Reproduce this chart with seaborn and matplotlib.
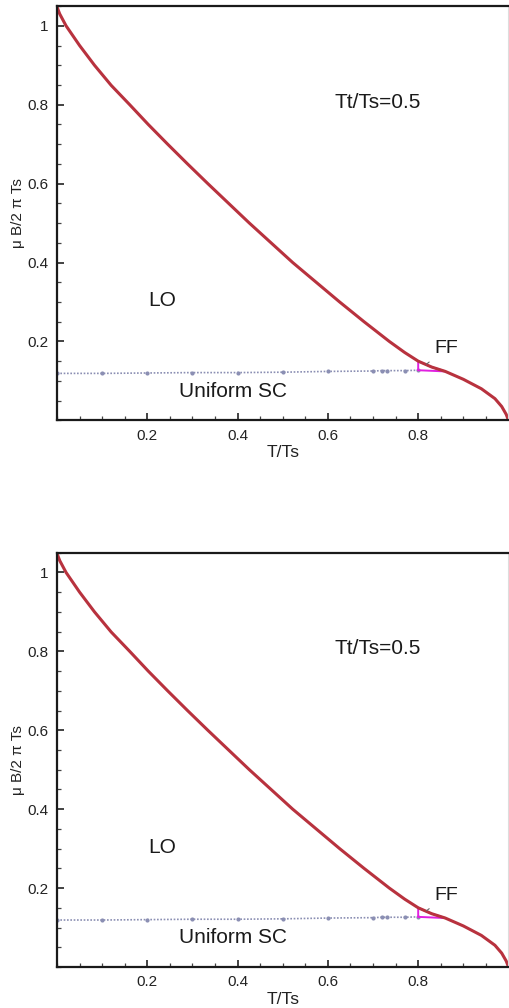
import matplotlib
matplotlib.use("Agg")
import matplotlib.pyplot as plt
from matplotlib.ticker import FixedLocator, MultipleLocator, FuncFormatter
import pandas as pd
import seaborn as sns

# Phase boundary (LO / normal)
T_CURVE = [0.0, 0.006, 0.02, 0.05, 0.083, 0.12, 0.161, 0.202, 0.245,
           0.289, 0.334, 0.38, 0.426, 0.474, 0.522, 0.574, 0.626, 0.68,
           0.736, 0.77, 0.80, 0.83, 0.86, 0.90, 0.94, 0.97, 0.985, 0.995,
           1.0]
B_CURVE = [1.048, 1.03, 1.0, 0.95, 0.9, 0.849, 0.8, 0.75, 0.7,
           0.65, 0.6, 0.55, 0.5, 0.45, 0.4, 0.35, 0.3, 0.25,
           0.2, 0.172, 0.15, 0.135, 0.124, 0.104, 0.08, 0.055, 0.035, 0.015,
           0.0]

# Uniform SC / LO boundary (dotted, with markers)
T_SC = [0.0, 0.1, 0.2, 0.3, 0.4, 0.5, 0.6, 0.7, 0.72, 0.73, 0.77, 0.8]
B_SC = [0.119, 0.119, 0.120, 0.121, 0.121, 0.122, 0.124, 0.125, 0.126,
        0.126, 0.126, 0.127]

# small FF pocket
T_FF = [0.8, 0.8, 0.83, 0.86, 0.8]
B_FF = [0.127, 0.15, 0.135, 0.124, 0.127]

X_TICKS = [0.2, 0.4, 0.6, 0.8]
Y_TICKS = [0.2, 0.4, 0.6, 0.8, 1.0]

RED = "#b8323e"
SC_COLOR = "#8b8fb3"
MAGENTA = "#e020e0"

sns.set_theme(style="ticks")
plt.rcParams["font.family"] = ["Liberation Sans", "DejaVu Sans"]


def draw_panel(ax):
  curve = pd.DataFrame({"T": T_CURVE, "B": B_CURVE})
  sc = pd.DataFrame({"T": T_SC, "B": B_SC})
  ff = pd.DataFrame({"T": T_FF, "B": B_FF})

  sns.lineplot(data=sc, x="T", y="B", ax=ax, color=SC_COLOR, lw=1.2,
               linestyle=(0, (1, 1)), marker="o", markersize=3,
               markeredgewidth=0, sort=False, estimator=None)
  sns.lineplot(data=ff, x="T", y="B", ax=ax, color=MAGENTA, lw=1.4,
               sort=False, estimator=None)
  sns.lineplot(data=curve, x="T", y="B", ax=ax, color=RED, lw=2.2,
               sort=False, estimator=None)

  ax.set_xlim(0, 1.0)
  ax.set_ylim(0, 1.05)
  ax.xaxis.set_major_locator(FixedLocator(X_TICKS))
  ax.yaxis.set_major_locator(FixedLocator(Y_TICKS))
  ax.xaxis.set_minor_locator(MultipleLocator(0.05))
  ax.yaxis.set_minor_locator(MultipleLocator(0.05))
  ax.yaxis.set_major_formatter(FuncFormatter(lambda v, _: f"{v:g}"))
  ax.tick_params(which="major", direction="in", length=5, width=1.2,
                 labelsize=11, pad=6, colors="#222222")
  ax.tick_params(which="minor", direction="in", length=3, width=0.9,
                 colors="#444444")

  for side in ["left", "bottom", "top"]:
    ax.spines[side].set_linewidth(1.6)
    ax.spines[side].set_color("#1a1a1a")
  ax.spines["right"].set_linewidth(0.8)
  ax.spines["right"].set_color("#dddddd")

  ax.set_xlabel("T/Ts", fontsize=12.5, labelpad=2, color="#222222")
  ax.set_ylabel("\u03bc B/2 \u03c0 Ts", fontsize=11, labelpad=2,
                color="#222222")

  ax.text(0.615, 0.806, "Tt/Ts=0.5", fontsize=15, va="center",
          ha="left", color="#1a1a1a")
  ax.text(0.233, 0.303, "LO", fontsize=15, va="center", ha="center",
          color="#1a1a1a")
  ax.text(0.39, 0.074, "Uniform SC", fontsize=15, va="center",
          ha="center", color="#1a1a1a")
  ax.annotate("FF", xy=(0.818, 0.142), xytext=(0.862, 0.182),
              fontsize=14, va="center", ha="center", color="#1a1a1a",
              arrowprops=dict(arrowstyle="-", color="#666666", lw=0.8,
                              shrinkA=2, shrinkB=0))


fig = plt.figure(figsize=(5.09, 10.08), dpi=100)
ax_top = fig.add_axes([0.112, 0.583, 0.887, 0.411])
ax_bot = fig.add_axes([0.112, 0.0407, 0.887, 0.411])
draw_panel(ax_top)
draw_panel(ax_bot)

fig.savefig("out.png", dpi=100)
plt.close(fig)
